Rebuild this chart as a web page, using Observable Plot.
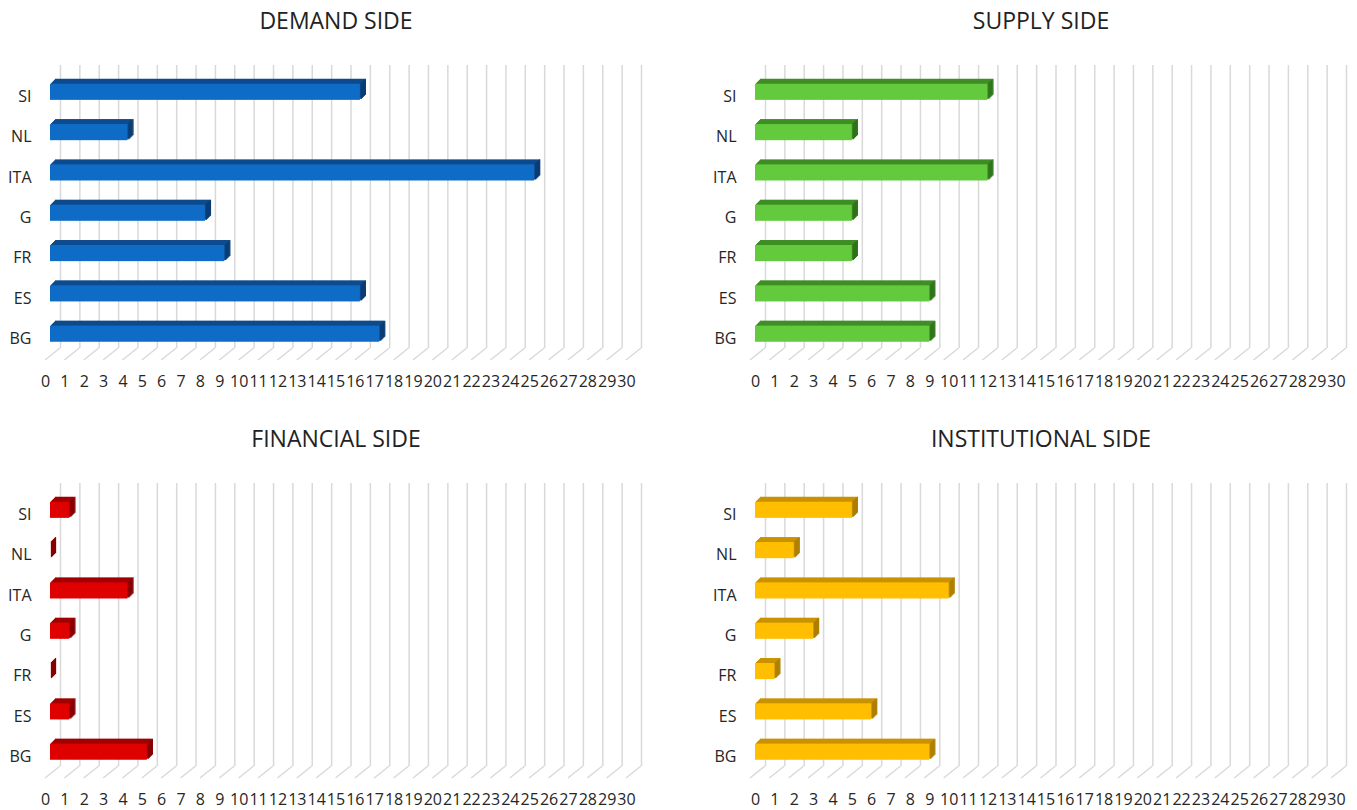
<!DOCTYPE html>
<html>
<head>
<meta charset="utf-8">
<script src="https://cdn.jsdelivr.net/npm/d3@7"></script>
<script src="https://cdn.jsdelivr.net/npm/@observablehq/plot@0.6"></script>
<style>
  html, body { margin: 0; padding: 0; background: #fff; overflow: hidden; }
  #chart { position: relative; width: 1357px; height: 810px; font-family: "Open Sans", sans-serif; }
  .panel { position: absolute; width: 672px; height: 420px; }
  .title { position: absolute; left: 0; top: 5px; width: 672px; text-align: center;
           font-size: 23px; line-height: 30px; color: #222; }
  .panel svg { position: absolute; left: 0; top: 40px; }
</style>
</head>
<body>
<div id="chart"></div>
<script>
// Countries, listed top to bottom as the bars are stacked
const countries = ["SI", "NL", "ITA", "G", "FR", "ES", "BG"];

// Scores per side, in the same order as countries
const demandSide = [16, 4, 25, 8, 9, 16, 17];
const supplySide = [12, 5, 12, 5, 5, 9, 9];
const financialSide = [1, 0, 4, 1, 0, 1, 5];
const institutionalSide = [5, 2, 10, 3, 1, 6, 9];

// Panel titles
const titles = ["DEMAND SIDE", "SUPPLY SIDE", "FINANCIAL SIDE", "INSTITUTIONAL SIDE"];

// Horizontal axis ticks
const xTicks = [0, 1, 2, 3, 4, 5, 6, 7, 8, 9, 10, 11, 12, 13, 14, 15, 16, 17, 18, 19, 20,
                21, 22, 23, 24, 25, 26, 27, 28, 29, 30];

// Face colours of the extruded bars: front, top, side
const palettes = [
  {front: "#0f6cc6", top: "#0e4b8e", side: "#0a3c75"},
  {front: "#63c93d", top: "#3f8e25", side: "#2f741a"},
  {front: "#df0000", top: "#a20000", side: "#870000"},
  {front: "#ffbf00", top: "#c99300", side: "#ad7e00"}
];

const series = [demandSide, supplySide, financialSide, institutionalSide];
const panelPos = [[0, 0], [705, 0], [0, 418], [705, 418]];
const gridColor = "#d9d9d9";
const textColor = "#262626";
const depth = 5;         // extrusion of the bars, px
const wallOffset = 10;   // back wall sits this far right of the bar plane, px

// Diagonal floor lines running from the back wall to the front edge
function floorLines(index, scales, values, dims) {
  const g = d3.create("svg:g")
    .attr("fill", "none")
    .attr("stroke", gridColor)
    .attr("stroke-width", 1.5);
  const yb = dims.height - dims.marginBottom;
  for (const t of xTicks) {
    const x = scales.x(t) + wallOffset;
    g.append("path").attr("d", `M${x},${yb}L${x - 15},${yb + 12}`);
  }
  return g.node();
}

function panel(values, pal, labelDx) {
  const rows = countries.map((country, i) => ({country, value: values[i]}));
  const marks = [
    Plot.ruleX(xTicks, {x: d => d, dx: wallOffset, stroke: gridColor, strokeWidth: 1.5}),
    floorLines
  ];
  // top face: the bar rectangle swept back along the depth diagonal
  for (let k = depth; k >= 1; k--) {
    marks.push(Plot.barX(rows, {x: "value", y: "country", dx: k, dy: -k, fill: pal.top}));
  }
  // side face at the end of each bar
  for (let k = 1; k <= depth; k++) {
    marks.push(Plot.tickX(rows, {x: "value", y: "country", dx: k, dy: -k, stroke: pal.side, strokeWidth: 1.3}));
  }
  // front face
  marks.push(Plot.barX(rows, {x: "value", y: "country", fill: pal.front}));
  marks.push(Plot.axisY({tickSize: 0, tickPadding: 19, fontSize: 16, dy: 4.5, label: null, fill: textColor}));
  marks.push(Plot.axisX(xTicks, {tickSize: 0, tickPadding: 27, fontSize: 16, dx: labelDx, label: null,
                                 fill: textColor, tickFormat: d => String(d)}));
  return Plot.plot({
    width: 652,
    height: 350,
    marginLeft: 50,
    marginRight: 21,
    marginTop: 25,
    marginBottom: 42,
    style: {fontFamily: "Open Sans, sans-serif", background: "transparent", overflow: "visible"},
    x: {domain: [0, 30]},
    y: {domain: countries, paddingInner: 0.6, paddingOuter: 0.31, align: 0.75, round: false},
    marks
  });
}

const chart = document.getElementById("chart");
series.forEach((values, i) => {
  const div = document.createElement("div");
  div.className = "panel";
  div.style.left = panelPos[i][0] + "px";
  div.style.top = panelPos[i][1] + "px";
  const t = document.createElement("div");
  t.className = "title";
  t.textContent = titles[i];
  div.appendChild(t);
  div.appendChild(panel(values, palettes[i], i % 2 === 0 ? -5 : 0));
  chart.appendChild(div);
});
</script>
</body>
</html>
